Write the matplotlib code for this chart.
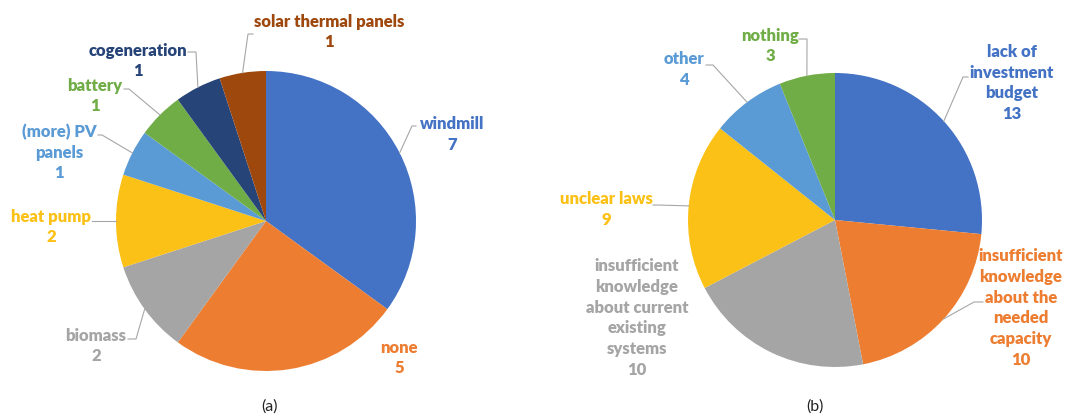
import numpy as np
import matplotlib
matplotlib.use("Agg")
import matplotlib.pyplot as plt

# ---- data -------------------------------------------------------------
measures = ["windmill", "none", "biomass", "heat pump", "(more) PV\npanels",
            "battery", "cogeneration", "solar thermal panels"]
measure_counts = [7, 5, 2, 2, 1, 1, 1, 1]

barriers = ["lack of\ninvestment\nbudget",
            "insufficient\nknowledge\nabout the\nneeded\ncapacity",
            "insufficient\nknowledge\nabout current\nexisting\nsystems",
            "unclear laws", "other", "nothing"]
barrier_counts = [13, 10, 10, 9, 4, 3]

captions = ["(a)", "(b)"]

# ---- styling ----------------------------------------------------------
colors_a = ["#4472C4", "#ED7D31", "#A5A5A5", "#FBC116", "#5B9BD5",
            "#70AD47", "#264478", "#9E480E"]
colors_b = ["#4472C4", "#ED7D31", "#A5A5A5", "#FBC116", "#5B9BD5", "#70AD47"]

W, H = 1080, 419
FONT = "Lato"
LEADER = "#A6A6A6"

fig = plt.figure(figsize=(W / 100, H / 100), dpi=100)
ax = fig.add_axes([0, 0, 1, 1])


def py(y):
    """Convert a top-down pixel row into the axes' y coordinate."""
    return H - y


# label layout: centre of text block, and leader start (x, y, elbow dx) or None
layout_a = [
    ((452, 134.5), (416, 126, -4)),
    ((399, 358), None),
    ((96, 346), (128, 339, 8)),
    ((51, 227), (92, 221, 6)),
    ((59, 152.5), (98, 135, 4)),
    ((95, 96), (124, 89, 5)),
    ((138, 61), (188, 52, 8)),
    ((329, 32), (253, 34, -5)),
]
layout_b = [
    ((1012, 83), (968, 77, -5)),
    ((1021, 308), (983, 302, -9)),
    ((637, 318), None),
    ((606, 209.5), (653, 205, 4)),
    ((684, 69.5), (706, 65, 7)),
    ((770, 46), (799, 39, 8)),
]


def draw_pie(values, names, colors, center_px, radius, layout):
    cx, cy = center_px[0], py(center_px[1])
    wedges, _ = ax.pie(values, colors=colors, startangle=90,
                       counterclock=False, center=(cx, cy), radius=radius,
                       wedgeprops=dict(linewidth=0))
    for w, name, val, col, (pos, lead) in zip(wedges, names, values, colors, layout):
        ax.text(pos[0], py(pos[1]), f"{name}\n{val}", color=col,
                fontsize=12, fontweight="heavy", family=FONT,
                ha="center", va="center", multialignment="center",
                linespacing=1.36)
        if lead is not None:
            mid = np.deg2rad((w.theta1 + w.theta2) / 2)
            ex = cx + radius * np.cos(mid)
            ey = cy + radius * np.sin(mid)
            sx, sy, dx = lead
            ax.plot([sx, sx + dx, ex], [py(sy), py(sy), ey],
                    color=LEADER, lw=0.8, solid_joinstyle="miter")


draw_pie(measure_counts, measures, colors_a, (266, 221), 150, layout_a)
draw_pie(barrier_counts, barriers, colors_b, (835, 220), 147, layout_b)

for cap, x in zip(captions, [270, 815]):
    ax.text(x, py(407), cap, fontsize=11.5, family=FONT, color="#222222",
            ha="center", va="center")

ax.set_xlim(0, W)
ax.set_ylim(0, H)
ax.set_aspect("equal")
ax.axis("off")

fig.savefig("out.png", dpi=100, facecolor="white")
